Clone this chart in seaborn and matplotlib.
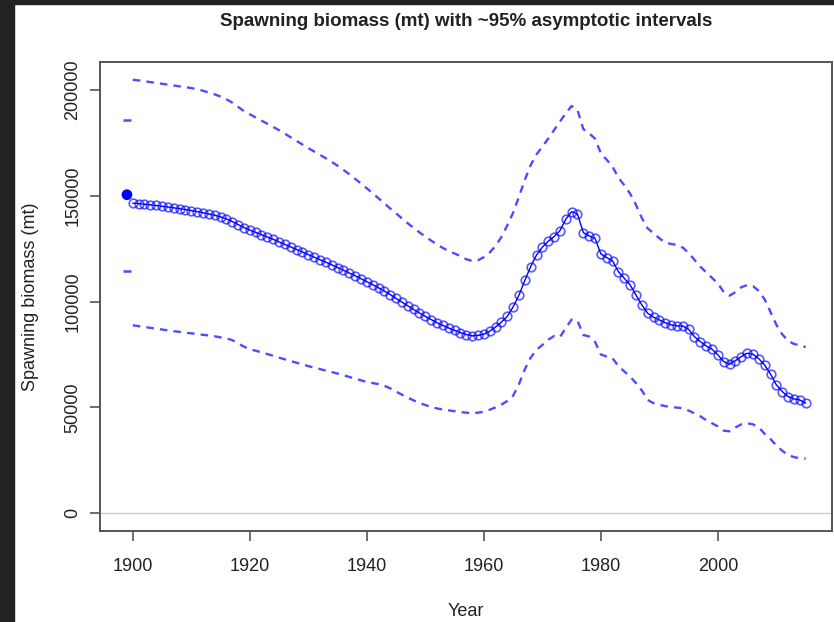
import numpy as np
import pandas as pd
import matplotlib
matplotlib.use("Agg")
import matplotlib.pyplot as plt
import seaborn as sns


# Spawning biomass (in 1000 mt)
years = list(range(1900, 2016))

biomass = [
    146.5, 146.3, 146.0, 145.7, 145.4, 145.0, 144.7, 144.3, 143.9, 143.5,
    143.0, 142.5, 142.0, 141.4, 140.8, 140.0, 139.1, 137.8, 136.4, 135.0,
    133.8, 132.7, 131.6, 130.5, 129.4, 128.2, 127.0, 125.8, 124.6, 123.4,
    122.2, 121.0, 119.8, 118.6, 117.4, 116.1, 114.8, 113.5, 112.2, 110.8,
    109.4, 108.0, 106.5, 105.0, 103.3, 101.5, 99.7, 98.0, 96.3, 94.6,
    93.0, 91.5, 90.0, 88.7, 87.5, 86.4, 85.3, 84.4, 83.8, 84.0,
    84.6, 86.0, 88.0, 90.3, 93.0, 97.5, 103.0, 110.0, 116.5, 122.0,
    125.7, 128.5, 130.7, 133.5, 138.9, 142.5, 141.4, 132.6, 131.0, 129.9,
    122.5, 120.8, 119.2, 114.1, 111.0, 107.9, 103.1, 98.4, 94.5, 92.6,
    91.3, 90.0, 89.0, 88.5, 88.5, 86.9, 83.4, 81.1, 79.0, 77.5,
    74.8, 71.6, 70.4, 72.1, 74.0, 75.6, 75.1, 73.0, 70.0, 65.7,
    60.6, 57.5, 55.1, 54.0, 53.5, 52.0,
]

upper = [
    204.8, 204.5, 204.1, 203.7, 203.3, 202.9, 202.5, 202.1, 201.7, 201.3,
    200.9, 200.3, 199.6, 198.8, 197.9, 196.9, 195.6, 194.0, 192.0, 190.0,
    188.5, 187.0, 185.5, 184.0, 182.5, 181.0, 179.3, 177.6, 175.9, 174.2,
    172.5, 170.9, 169.3, 167.7, 166.0, 164.2, 162.2, 160.2, 158.0, 155.8,
    153.5, 151.2, 148.8, 146.4, 144.0, 141.7, 139.3, 137.0, 134.8, 132.7,
    130.7, 128.8, 127.0, 125.3, 123.9, 122.7, 121.5, 120.0, 119.2, 119.5,
    121.0, 123.2, 126.3, 130.5, 136.0, 142.0, 149.5, 157.5, 164.5, 169.5,
    173.2, 177.0, 181.0, 185.0, 189.0, 192.4, 190.5, 181.5, 179.5, 177.0,
    170.0, 167.0, 163.7, 158.5, 155.0, 151.0, 145.7, 139.5, 134.6, 132.3,
    129.9, 127.9, 127.2, 126.8, 125.5, 123.0, 119.7, 116.5, 113.8, 111.2,
    108.5, 104.5, 102.8, 104.5, 106.8, 107.8, 107.3, 105.0, 101.0, 95.0,
    89.0, 84.5, 81.5, 80.0, 79.3, 78.5,
]

lower = [
    88.8, 88.4, 88.0, 87.6, 87.2, 86.8, 86.4, 86.0, 85.7, 85.3,
    85.0, 84.7, 84.3, 84.0, 83.6, 83.1, 82.6, 81.8, 80.2, 78.7,
    77.5, 76.8, 76.0, 75.2, 74.4, 73.5, 72.7, 71.9, 71.1, 70.3,
    69.5, 68.8, 68.1, 67.4, 66.7, 66.0, 65.2, 64.4, 63.6, 62.8,
    62.0, 61.5, 61.0, 60.2, 59.0, 57.5, 56.0, 54.6, 53.3, 52.1,
    51.1, 50.2, 49.5, 49.0, 48.6, 48.2, 47.8, 47.5, 47.3, 47.5,
    48.0, 48.9, 50.0, 51.3, 53.0, 55.5, 61.0, 68.0, 73.5, 77.2,
    79.5, 82.0, 83.7, 83.2, 87.5, 91.5, 91.0, 84.2, 83.5, 81.0,
    75.0, 74.0, 73.2, 69.5, 67.0, 64.5, 61.5, 58.0, 53.5, 52.0,
    51.2, 50.6, 50.2, 49.9, 49.6, 48.5, 47.2, 45.8, 44.0, 42.5,
    41.0, 39.0, 38.7, 40.5, 42.0, 42.5, 42.0, 40.5, 37.5, 35.0,
    32.0, 29.5, 27.5, 26.5, 26.0, 25.8,
]

# Virgin (unfished) estimate and its interval
virgin_year = [1899]
virgin_value = [150.5]
virgin_upper = [185.8]
virgin_lower = [114.6]

x_ticks = [1900, 1920, 1940, 1960, 1980, 2000]
y_ticks = [0, 50000, 100000, 150000, 200000]


df = pd.DataFrame({
    "Year": years,
    "SSB": np.array(biomass) * 1000,
    "upper": np.array(upper) * 1000,
    "lower": np.array(lower) * 1000,
})


sns.set_style("ticks")
plt.rcParams["font.family"] = ["Liberation Sans", "DejaVu Sans"]

fig = plt.figure(figsize=(8.34, 6.22), dpi=100)

# dark frame strips seen at left and top of the screenshot
fig.patches.append(plt.Rectangle((0, 0), 14 / 834, 1, transform=fig.transFigure,
                                 color="#222222", zorder=0))
fig.patches.append(plt.Rectangle((0, 1 - 4 / 622), 1, 4 / 622, transform=fig.transFigure,
                                 color="#222222", zorder=0))

ax = fig.add_axes([100 / 834, 1 - 531 / 622, 732 / 834, 469 / 622])

ax.axhline(0, color="#cccccc", lw=1, zorder=1)

ci_col = (0.3, 0.3, 1.0)

sns.lineplot(data=df, x="Year", y="upper", ax=ax, color=ci_col,
             lw=1.7, linestyle=(0, (3.2, 2.6)), zorder=2)
sns.lineplot(data=df, x="Year", y="lower", ax=ax, color=ci_col,
             lw=1.7, linestyle=(0, (3.2, 2.6)), zorder=2)

sns.lineplot(data=df, x="Year", y="SSB", ax=ax, color="blue",
             lw=1.0, marker="o", markersize=6.2, markerfacecolor="none",
             markeredgecolor=(0, 0, 1, 0.65), markeredgewidth=1.2, zorder=3)

# virgin biomass point and its interval
sns.scatterplot(x=virgin_year, y=np.array(virgin_value) * 1000, ax=ax,
                color="blue", s=60, edgecolor="none", zorder=4)
sns.scatterplot(x=virgin_year * 2,
                y=np.array(virgin_upper + virgin_lower) * 1000, ax=ax,
                marker="_", s=30, color=ci_col, linewidth=1.8, zorder=4)

ax.set_xlim(1894.4, 2019.5)
ax.set_ylim(-8400, 213200)

ax.set_xticks(x_ticks)
ax.set_yticks(y_ticks)
ax.set_yticklabels([str(v) for v in y_ticks], rotation=90, va="center")

ax.tick_params(axis="both", direction="out", length=7.5, width=1.2,
               color="#555555", labelsize=13, labelcolor="#222222", pad=6)
ax.tick_params(axis="x", pad=12)

for sp in ax.spines.values():
    sp.set_color("#555555")
    sp.set_linewidth(1.4)
    sp.set_visible(True)

ax.set_xlabel("Year", fontsize=13, color="#222222", labelpad=20)
ax.set_ylabel("Spawning biomass (mt)", fontsize=13, color="#222222", labelpad=18)
ax.set_title("Spawning biomass (mt) with ~95% asymptotic intervals",
             fontsize=13.5, fontweight="bold", color="#222222", pad=26)

fig.savefig("out.png", dpi=100)
